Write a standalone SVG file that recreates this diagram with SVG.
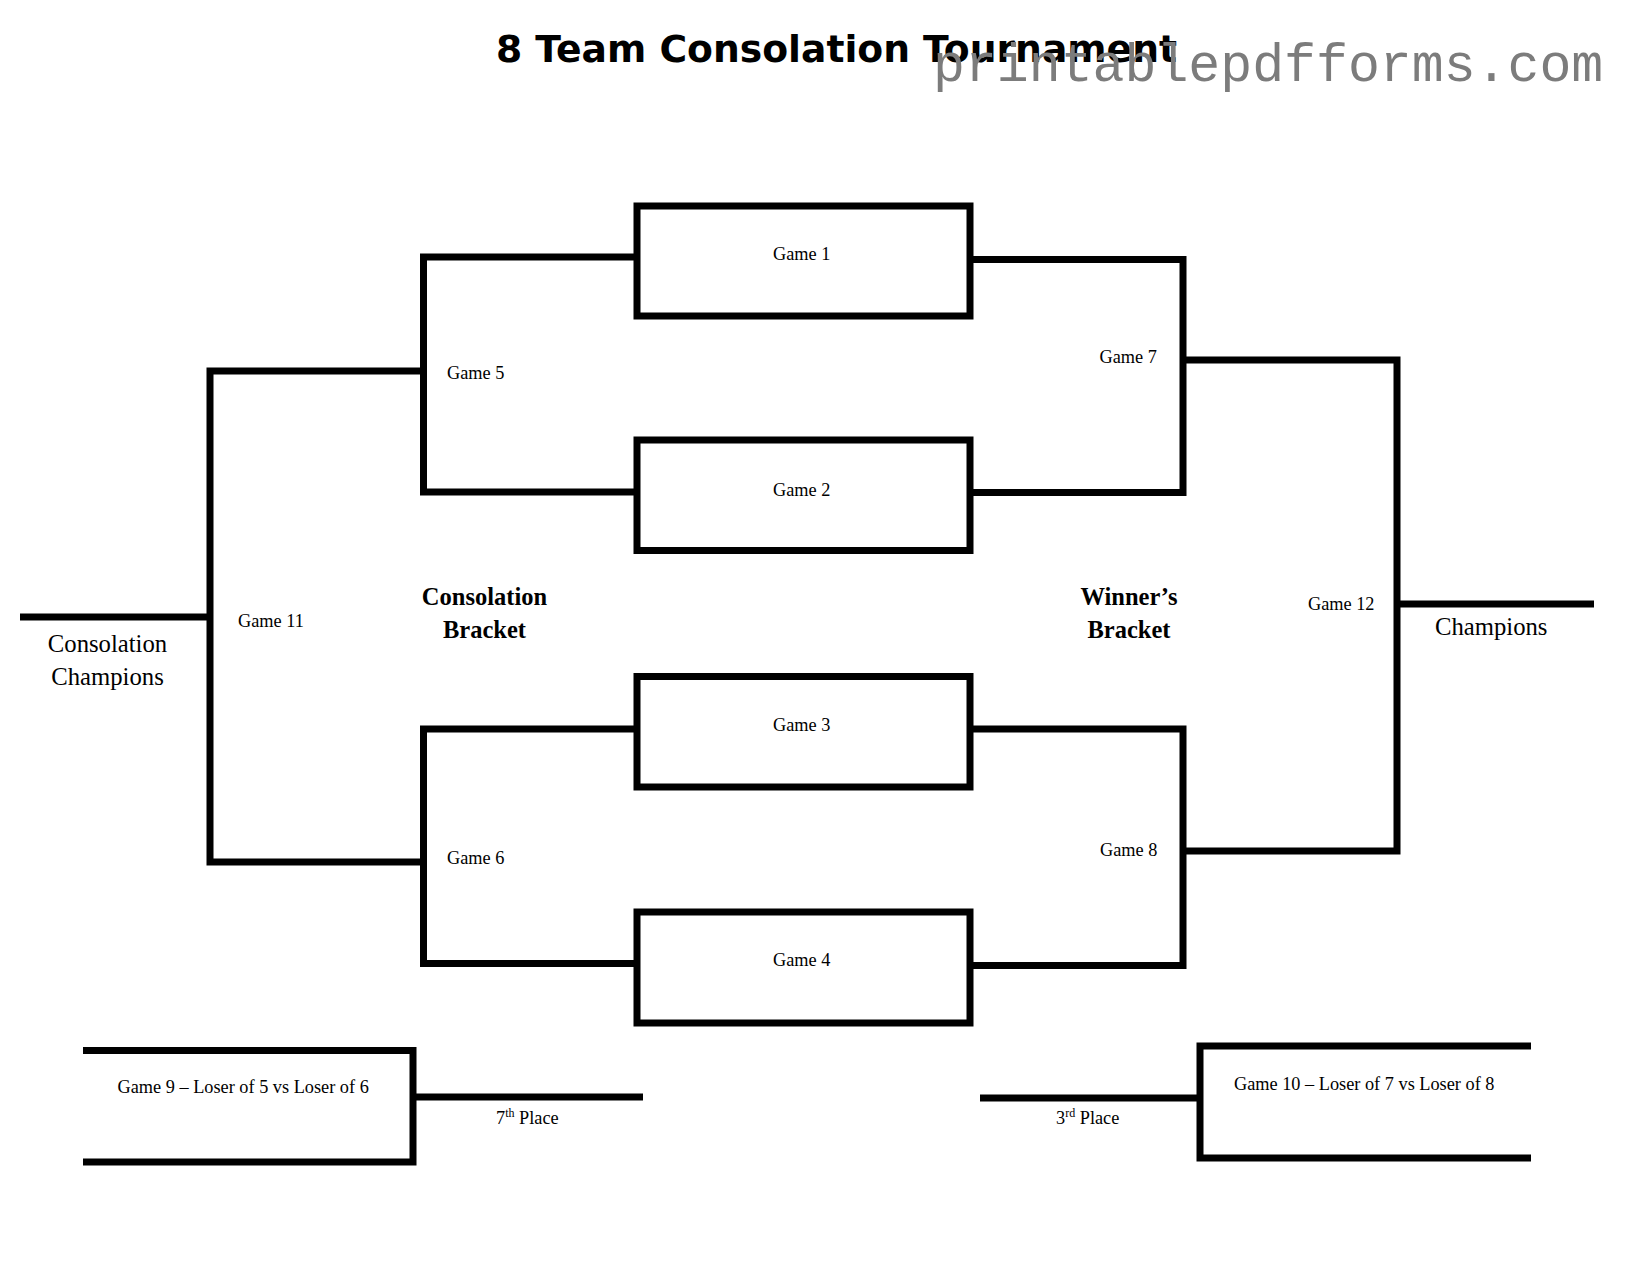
<svg xmlns="http://www.w3.org/2000/svg" width="1642" height="1269" viewBox="0 0 1642 1269">
  <style>
    .ln { fill: none; stroke: #000; stroke-width: 7; stroke-linejoin: miter; }
    .box { fill: #fff; stroke: #000; stroke-width: 7; }
    .lbl { font-family: "Liberation Serif", "Times New Roman", serif; font-size: 18.3px; fill: #000; }
    .big { font-family: "Liberation Serif", "Times New Roman", serif; font-size: 24.7px; fill: #000; }
    .bold { font-family: "Liberation Serif", "Times New Roman", serif; font-size: 24.5px; font-weight: bold; fill: #000; text-anchor: middle; }
    .sup { font-size: 12px; }
    .title { font-family: "DejaVu Sans", Verdana, sans-serif; font-size: 37.5px; font-weight: bold; fill: #000; }
    .wm { font-family: "Liberation Mono", "Courier New", monospace; font-size: 53.2px; fill: #7c7c7c; }
  </style>
  <rect x="0" y="0" width="1642" height="1269" fill="#fff"/>

  <text class="title" x="496" y="62" textLength="681" lengthAdjust="spacingAndGlyphs">8 Team Consolation Tournament</text>

  <g id="connectors">
    <polyline class="ln" points="637,257 423.5,257 423.5,492 637,492"/>
    <polyline class="ln" points="637,729 423.5,729 423.5,963.5 637,963.5"/>
    <polyline class="ln" points="423.5,371 210,371 210,862 423.5,862"/>
    <line class="ln" x1="20" y1="617" x2="210" y2="617"/>
    <polyline class="ln" points="970,259.5 1183,259.5 1183,492.5 970,492.5"/>
    <polyline class="ln" points="970,729 1183,729 1183,965.5 970,965.5"/>
    <polyline class="ln" points="1183,360 1397,360 1397,851 1183,851"/>
    <line class="ln" x1="1397" y1="604" x2="1594" y2="604"/>
    <line class="ln" x1="413" y1="1097" x2="643" y2="1097"/>
    <line class="ln" x1="980" y1="1098" x2="1200" y2="1098"/>
  </g>

  <g id="game1">
    <rect class="box" x="637" y="206" width="333" height="110"/>
    <text class="lbl" x="773" y="260">Game 1</text>
  </g>
  <g id="game2">
    <rect class="box" x="637" y="440" width="333" height="110.5"/>
    <text class="lbl" x="773" y="495.5">Game 2</text>
  </g>
  <g id="game3">
    <rect class="box" x="637" y="676.5" width="333" height="110.5"/>
    <text class="lbl" x="773" y="731">Game 3</text>
  </g>
  <g id="game4">
    <rect class="box" x="637" y="912" width="333" height="111"/>
    <text class="lbl" x="773" y="966">Game 4</text>
  </g>

  <g id="game5"><text class="lbl" x="447" y="378.5">Game 5</text></g>
  <g id="game6"><text class="lbl" x="447" y="864">Game 6</text></g>
  <g id="game7"><text class="lbl" x="1099.5" y="362.7">Game 7</text></g>
  <g id="game8"><text class="lbl" x="1100" y="855.5">Game 8</text></g>
  <g id="game11"><text class="lbl" x="238" y="626.5">Game 11</text></g>
  <g id="game12"><text class="lbl" x="1308" y="609.5">Game 12</text></g>

  <g id="consolation-champions">
    <text class="big" x="107.5" y="652" text-anchor="middle">Consolation</text>
    <text class="big" x="107.5" y="685" text-anchor="middle">Champions</text>
  </g>
  <g id="champions">
    <text class="big" x="1435" y="635">Champions</text>
  </g>
  <g id="consolation-bracket">
    <text class="bold" x="484.5" y="605">Consolation</text>
    <text class="bold" x="484.5" y="638">Bracket</text>
  </g>
  <g id="winners-bracket">
    <text class="bold" x="1129" y="605">Winner’s</text>
    <text class="bold" x="1129" y="638">Bracket</text>
  </g>

  <g id="game9">
    <polyline class="ln" points="83,1050.5 413,1050.5 413,1162 83,1162"/>
    <text class="lbl" x="117.5" y="1093">Game 9 – Loser of 5 vs Loser of 6</text>
  </g>
  <g id="seventh-place">
    <text class="lbl" x="496" y="1123.5">7<tspan class="sup" dy="-7">th</tspan><tspan dy="7"> Place</tspan></text>
  </g>
  <g id="game10">
    <polyline class="ln" points="1531,1046 1200,1046 1200,1158 1531,1158"/>
    <text class="lbl" x="1234" y="1089.5">Game 10 – Loser of 7 vs Loser of 8</text>
  </g>
  <g id="third-place">
    <text class="lbl" x="1056" y="1123.5">3<tspan class="sup" dy="-7">rd</tspan><tspan dy="7"> Place</tspan></text>
  </g>

  <text class="wm" x="933" y="81">printablepdfforms.com</text>
</svg>
